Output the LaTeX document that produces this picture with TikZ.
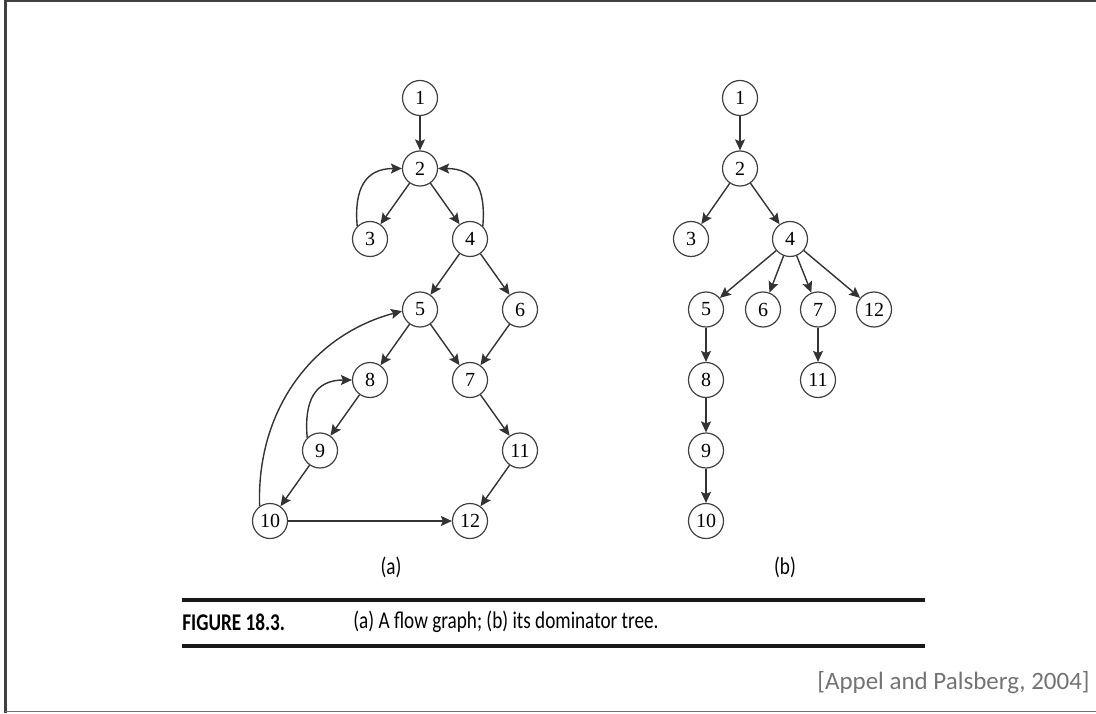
\documentclass[tikz,border=0pt]{standalone}
\usepackage{fontspec}
\setmainfont{Liberation Serif}
\newfontfamily\capfont[FakeStretch=0.8]{Carlito}
\newfontfamily\citefont{Carlito}
\usetikzlibrary{arrows.meta,positioning}
\tikzset{
  vertex/.style={draw=black!75, line width=0.6pt, circle, minimum size=17.5pt,
                 inner sep=0pt, font=\fontsize{10}{12}\selectfont},
  edge/.style={draw=black!80, line width=0.7pt,
               -{Stealth[length=5.5pt,width=5pt,inset=1pt]}},
  sublabel/.style={font=\capfont\fontsize{12}{14}\selectfont},
  rule/.style={line width=2pt, black!90}
}

\begin{document}
\begin{tikzpicture}[x=0.5pt,y=0.5pt]
  \useasboundingbox (0,0) rectangle (1096,713);
  % frame
  \draw[black!75,line width=1.5pt] (5.5,0) -- (5.5,713);
  \draw[black!75,line width=1pt] (5,712) -- (1096,712);
  \draw[black!55,line width=0.8pt] (5,1.5) -- (1096,1.5);

  % (a) flow graph
  \foreach \n/\x/\y in {1/420/615, 2/420/544.5, 3/370/474, 4/470/474,
                        5/420/403.5, 6/520/403.5, 7/470/333, 8/370/333,
                        9/320/262.5, 11/520/262.5, 10/270/192, 12/470/192}
    \node[vertex] (a\n) at (\x,\y) {\n};
  \foreach \s/\t in {1/2, 2/3, 2/4, 4/5, 4/6, 5/8, 5/7, 6/7,
                     8/9, 9/10, 7/11, 11/12, 10/12}
    \draw[edge] (a\s) -- (a\t);
  \draw[edge] (a3.135) to[out=95,in=180,looseness=1.3] (a2.180);
  \draw[edge] (a4.45) to[out=85,in=0,looseness=1.3] (a2.0);
  \draw[edge] (a9.135) to[out=95,in=180,looseness=1.3] (a8.180);
  \draw[edge] (a10.125) to[out=92,in=195] (a5.185);
  \node[sublabel] (capa) at (391,146) {(a)};

  % (b) dominator tree
  \foreach \n/\x/\y in {1/740/615, 2/740/544.5, 3/691/474, 4/790/474,
                        5/706/403.5, 6/763/403.5, 7/818/403.5, 12/874/403.5,
                        8/706/333, 11/818/333, 9/706/262.5, 10/706/192}
    \node[vertex] (b\n) at (\x,\y) {\n};
  \foreach \s/\t in {1/2, 2/3, 2/4, 4/5, 4/6, 4/7, 4/12,
                     5/8, 8/9, 9/10, 7/11}
    \draw[edge] (b\s) -- (b\t);
  \node[sublabel] (capb) at (785,146) {(b)};

  % caption block
  \draw[rule] (182,113) -- (925,113);
  \draw[rule] (182,67) -- (925,67);
  \node[anchor=west,inner sep=0pt,font=\capfont\bfseries\fontsize{12}{14}\selectfont]
    (fignum) at (182,91) {FIGURE 18.3.};
  \node[anchor=west,inner sep=0pt,font=\capfont\fontsize{12}{14}\selectfont]
    (figtext) at (353,91) {(a) A flow graph; (b) its dominator tree.};
  \node[anchor=east,inner sep=0pt,text=black!55,font=\citefont\fontsize{12.5}{14}\selectfont]
    (cite) at (1090,30) {[Appel and Palsberg, 2004]};
\end{tikzpicture}
\end{document}
